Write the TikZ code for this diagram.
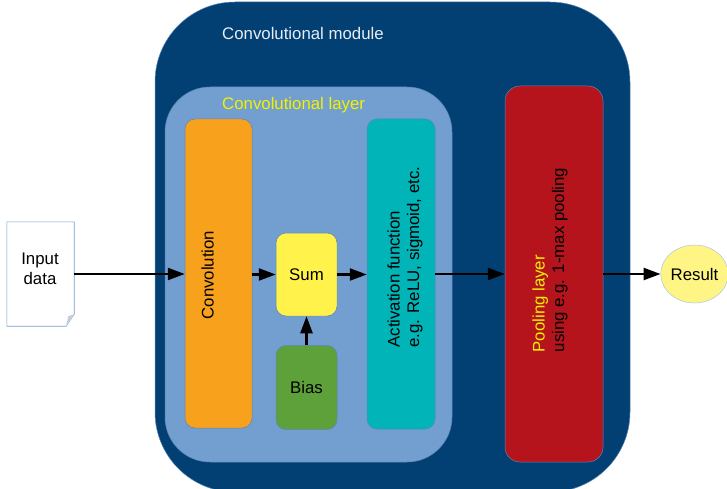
\documentclass[tikz,border=0pt]{standalone}
\usepackage{fontspec}
\setmainfont{Liberation Sans}
\usetikzlibrary{arrows.meta,shapes.geometric}

\definecolor{modblue}{HTML}{023F73}
\definecolor{layerblue}{HTML}{729FCF}
\definecolor{convorange}{HTML}{F8A11C}
\definecolor{sumyellow}{HTML}{FFF24A}
\definecolor{biasgreen}{HTML}{5EA13A}
\definecolor{actteal}{HTML}{00B4B8}
\definecolor{poolred}{HTML}{B5141C}
\definecolor{resyellow}{HTML}{FFF585}
\definecolor{boxline}{HTML}{5A86B8}
\definecolor{titlewhite}{HTML}{E6EDF5}
\definecolor{titleyellow}{HTML}{F2F200}
\definecolor{foldgray}{HTML}{C5CEDA}

\tikzset{
  box/.style={draw=boxline, line width=0.5pt, rounded corners=10pt, inner sep=0pt},
  arr/.style={line width=2.4pt, -{Triangle[length=17pt,width=12pt]}},
  vtext/.style={rotate=90, align=left, inner sep=0pt},
  title/.style={anchor=west, inner sep=0pt},
}

\begin{document}
\begin{tikzpicture}[x=1pt,y=-1pt, font=\fontsize{16.8}{19.5}\selectfont]
\useasboundingbox (0,0) rectangle (727,489);

% convolutional module (runs just past the lower edge)
\node[draw=boxline, line width=0.5pt, fill=modblue, rounded corners=80pt, inner sep=0pt,
      minimum width=475pt, minimum height=490pt] (module) at (392.5,247) {};
\node[title, text=titlewhite] (modtitle) at (222,33) {Convolutional module};

% convolutional layer
\node[draw=boxline, line width=0.5pt, fill=layerblue, rounded corners=45pt, inner sep=0pt,
      minimum width=287pt, minimum height=375pt] (layer) at (308.5,274.5) {};
\node[title, text=titleyellow] (laytitle) at (222,105) {Convolutional layer};

% inner blocks
\node[box, fill=convorange, minimum width=67pt, minimum height=309pt] (conv) at (218.5,273.5) {};
\node[vtext] (convtxt) at (207.5,275) {Convolution};

\node[box, fill=sumyellow, minimum width=61pt, minimum height=83pt] (sum) at (306.5,274.5) {Sum};
\node[box, fill=biasgreen, minimum width=61pt, minimum height=84pt] (bias) at (306.5,387.5) {Bias};

\node[box, fill=actteal, minimum width=68pt, minimum height=310pt] (act) at (401,274) {};
\node[vtext] (acttxt) at (405,257) {Activation function\\e.g. ReLU, sigmoid, etc.};

\node[box, fill=poolred, rounded corners=15pt, minimum width=98pt, minimum height=376pt] (pool) at (554,274) {};
\node[vtext] (pooltxt) at (550,260) {\textcolor{titleyellow}{Pooling layer}\\using e.g. 1-max pooling};

% input document with folded corner
\node[inner sep=0pt, minimum width=67pt, minimum height=104pt] (input) at (40.5,274) {};
\draw[draw=layerblue, fill=white, line width=0.6pt]
  (input.north west) -- (input.north east) -- ([yshift=12pt]input.south east)
  -- ([xshift=-8pt]input.south east) -- (input.south west) -- cycle;
\fill[foldgray] ([yshift=12pt]input.south east) -- ([xshift=-8pt]input.south east)
  -- ([xshift=-6pt,yshift=10pt]input.south east) -- cycle;
\node[align=center] (inputtxt) at (40,269) {Input\\data};

% result
\node[ellipse, draw=layerblue!60, line width=0.5pt, fill=resyellow, inner sep=0pt,
      minimum width=61pt, minimum height=58pt] (res) at (694.5,274) {Result};

% connectors
\draw[arr] (input.east) -- (input.east -| conv.west);
\draw[arr] (conv.east |- sum.west) -- (sum.west);
\draw[arr] (sum.east) -- (sum.east -| act.west);
\draw[arr] (bias.north) -- (sum.south);
\draw[arr] (act.east) -- (act.east -| pool.west);
\draw[arr] (pool.east) -- (res.west);
\end{tikzpicture}
\end{document}
